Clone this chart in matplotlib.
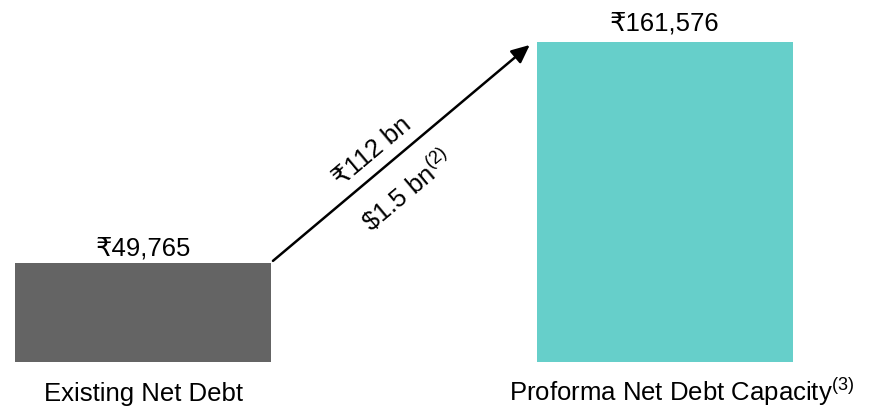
import matplotlib
matplotlib.use("Agg")
import matplotlib.pyplot as plt

plt.rcParams['font.family'] = ['Liberation Sans', 'DejaVu Sans']
plt.rcParams['mathtext.fontset'] = 'custom'
plt.rcParams['mathtext.rm'] = 'Liberation Sans'
plt.rcParams['mathtext.default'] = 'regular'

categories = ["Existing Net Debt", "Proforma Net Debt Capacity$^{(3)}$"]
values = [49765, 161576]
value_labels = ["₹49,765", "₹161,576"]
bar_colors = ["#646464", "#66CFCA"]
increase_inr = "₹112 bn"
increase_usd = r"\$1.5 bn$^{(2)}$"

fig = plt.figure(figsize=(8.69, 4.09), dpi=100)
ax = fig.add_axes([0, 0, 1, 1])
ax.set_axis_off()

x = [0, 1]
width = 0.49
ax.bar(x, values, width=width, color=bar_colors)
ax.set_xlim(-0.274, 1.391)
ax.set_ylim(-23731, 182783)

FS = 18.5
label_pad = [2, 5]
for xi, v, lab, pad in zip(x, values, value_labels, label_pad):
    ax.annotate(lab, (xi, v), xytext=(0, pad), textcoords="offset points",
                ha="center", va="bottom", fontsize=FS)

# category names share one baseline below the bars
name_dx = [0, 12]
for xi, name, dx in zip(x, categories, name_dx):
    ax.annotate(name, (xi, 0), xytext=(dx, -28), textcoords="offset points",
                ha="center", va="baseline", fontsize=FS)

# growth arrow from the first bar's corner to the second bar's corner
x0 = x[0] + width / 2 + 0.004
x1 = x[1] - width / 2 - 0.014
y0 = values[0] + 1300
y1 = values[1] - 1500
ax.annotate("", xy=(x1, y1), xytext=(x0, y0),
            arrowprops=dict(arrowstyle="-|>,head_length=1.1,head_width=0.5",
                            color="black", lw=1.8, shrinkA=0, shrinkB=0))

xm = (x0 + x1) / 2
ym = (y0 + y1) / 2
ax.annotate(increase_inr, (xm, ym), xytext=(-21, 1), textcoords="offset points",
            ha="center", va="center", rotation=40, fontsize=FS,
            rotation_mode="anchor")
ax.annotate(increase_usd, (xm, ym), xytext=(4, -27), textcoords="offset points",
            ha="center", va="center", rotation=40, fontsize=FS,
            rotation_mode="anchor")

fig.savefig("out.png", dpi=100)
